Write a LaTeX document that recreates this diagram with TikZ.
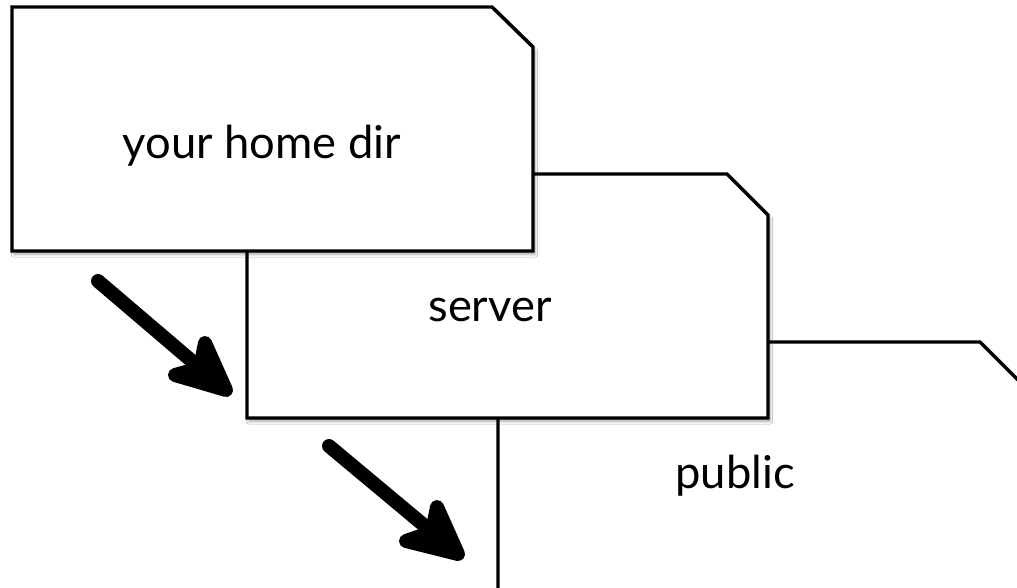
\documentclass[tikz,border=0pt]{standalone}
\usepackage{fontspec}
\setmainfont{Lato}
\usetikzlibrary{shadows.blur,calc}
\begin{document}
\begin{tikzpicture}[x=0.75pt,y=-0.75pt,
  folder/.style={draw=black, line width=2.6pt, fill=white, line join=miter,
    blur shadow={shadow xshift=1.5pt, shadow yshift=-2.5pt, shadow blur steps=6, shadow opacity=35}},
  label/.style={font=\fontsize{34}{40}\selectfont, text=black},
  shaft/.style={line width=10.5pt, line cap=round, black},
  head/.style={line width=10.5pt, line join=round, line cap=round, draw=black, fill=black}]
\useasboundingbox (0,0) rectangle (1017,587);
\clip (0,0) rectangle (1017,587);
\fill[white] (0,0) rectangle (1017,587);
% folders, back to front
\draw[folder] (498,342) -- (980,342) -- (1021,383) -- (1021,630) -- (498,630) -- cycle;
\draw[folder] (247,174) -- (727,174) -- (768,215) -- (768,418) -- (247,418) -- cycle;
\draw[folder] (12,7) -- (492,7) -- (533,47) -- (533,251) -- (12,251) -- cycle;
% labels
\node[label] (home) at (262,146) {your home dir};
\node[label] (server) at (490,310) {server};
\node[label] (public) at (735,476) {public};
% arrow 1
\coordinate (a1s) at (98,281);
\coordinate (a1t) at (226,390);
\coordinate (a1n) at (200,368);
\coordinate (a1l) at (205,343);
\coordinate (a1r) at (175,375);
\draw[shaft] (a1s) -- (a1n);
\draw[head] (a1l) -- (a1t) -- (a1r) -- (a1n) -- cycle;
% arrow 2
\coordinate (a2s) at (329,446);
\coordinate (a2t) at (458,554);
\coordinate (a2n) at (432,532);
\coordinate (a2l) at (437,507);
\coordinate (a2r) at (406,541);
\draw[shaft] (a2s) -- (a2n);
\draw[head] (a2l) -- (a2t) -- (a2r) -- (a2n) -- cycle;
\end{tikzpicture}
\end{document}
